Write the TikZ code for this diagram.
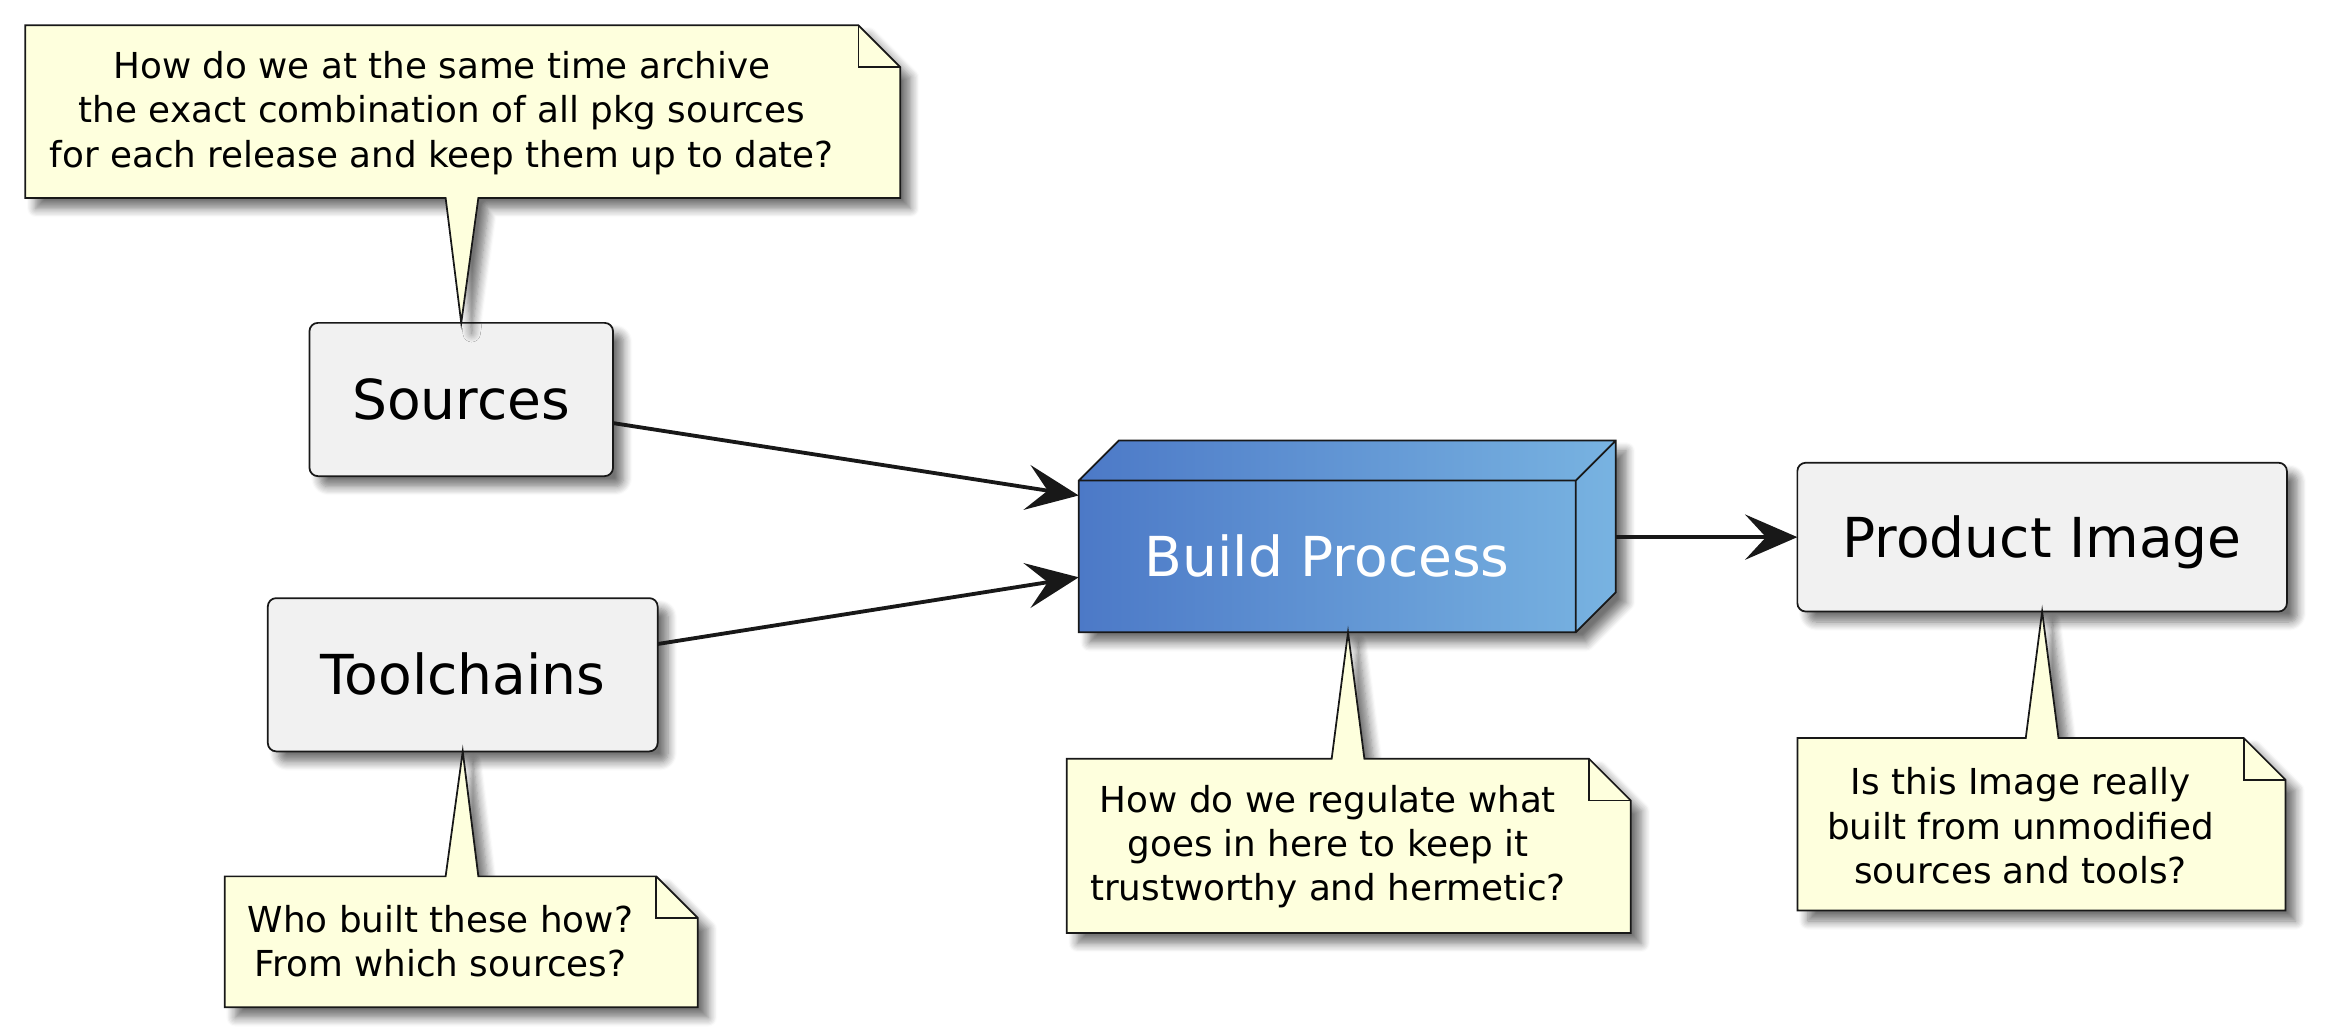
\documentclass[tikz,border=0pt]{standalone}
\usepackage{fontspec}
\setmainfont{DejaVu Sans}
\usepackage{tikz}
\usetikzlibrary{arrows.meta}
\usetikzlibrary{shadows,shadows.blur}
\usetikzlibrary{calc}

\definecolor{ink}{HTML}{181818}
\definecolor{notefill}{HTML}{FEFFDD}
\definecolor{boxfill}{HTML}{F1F1F1}
\definecolor{cubeleft}{HTML}{4C79C7}
\definecolor{cuberight}{HTML}{78B3E1}

\begin{document}
\begin{tikzpicture}
[x=0.015cm,y=-0.015cm,
  sh/.style = {blur shadow={shadow xshift=3pt,shadow yshift=-3pt,
        shadow blur radius=2.5pt,shadow blur steps=8,shadow opacity=55}},
  bx/.style = {rectangle,draw=ink,fill=boxfill,line width=0.5pt,rounded corners=2.4pt,
        inner sep=0pt,outer sep=0pt,text height=11.5pt,text depth=0pt,
        font=\fontsize{15.8}{19}\selectfont,sh},
  nb/.style = {draw=ink,fill=notefill,line width=0.5pt,sh},
  nf/.style = {draw=ink,line width=0.5pt},
  nt/.style = {align=center,inner sep=0pt,font=\fontsize{10.25}{12.7}\selectfont},
  flow/.style = {-{Stealth[length=15pt,width=13pt,inset=6pt]},draw=ink,line width=1.1pt}]

\useasboundingbox (0,0) rectangle (1568,693);

% boxes
\node[bx,minimum width=3.06cm,minimum height=1.545cm] (Src) at (310,268.5) {Sources};
\node[bx,minimum width=3.93cm,minimum height=1.545cm] (Tool) at (311,453.5) {Toolchains};
\node[bx,minimum width=4.935cm,minimum height=1.5cm] (PI) at (1372.5,361) {Product Image};

% the cube, then the build node on its front face
\coordinate (bc) at (892,374);
\path[left color=cubeleft,right color=cuberight,sh] ($(bc)+(-167,51)$) -- ($(bc)+(-167,-51)$)
  -- ($(bc)+(-140,-78)$) -- ($(bc)+(194,-78)$) -- ($(bc)+(194,24)$) -- ($(bc)+(167,51)$) -- cycle;
\draw[nf] ($(bc)+(-167,51)$) -- ($(bc)+(-167,-51)$)
  -- ($(bc)+(-140,-78)$) -- ($(bc)+(194,-78)$) -- ($(bc)+(194,24)$) -- ($(bc)+(167,51)$) -- cycle
  ($(bc)+(-167,-51)$) -- ($(bc)+(167,-51)$) -- ($(bc)+(167,51)$)
  ($(bc)+(167,-51)$) -- ($(bc)+(194,-78)$);
\node[rectangle,minimum width=5.01cm,minimum height=1.53cm,inner sep=0pt,outer sep=0pt,
  text=white,text height=11.5pt,text depth=0pt,font=\fontsize{15.8}{19}\selectfont] (BP) at (bc) {Build Process};

% notes
\path[nb] (17,17) -- (577,17) -- (605,45) -- (605,133) -- (321.5,133) -- (Src.north)
  -- (299.5,133) -- (17,133) -- cycle;
\draw[nf] (577,17) -- (577,45) -- (605,45);
\node[nt] (N1) at (297,76) {How do we at the same time archive\\the exact combination of all pkg sources\\for each release and keep them up to date?};

\path[nb] (151,589) -- (299.5,589) -- (Tool.south) -- (321.5,589) -- (441,589) -- (469,617)
  -- (469,677) -- (151,677) -- cycle;
\draw[nf] (441,589) -- (441,617) -- (469,617);
\node[nt] (N2) at (296,632.5) {Who built these how?\\From which sources?};

\coordinate (bpTip) at ($(BP.south)+(14,0)$);
\path[nb] (717,510) -- (895,510) -- (bpTip) -- (917,510) -- (1068,510) -- (1096,538)
  -- (1096,627) -- (717,627) -- cycle;
\draw[nf] (1068,510) -- (1068,538) -- (1096,538);
\node[nt] (N3) at (892.5,569) {How do we regulate what\\goes in here to keep it\\trustworthy and hermetic?};

\path[nb] (1208,496) -- (1361.5,496) -- (PI.south) -- (1383.5,496) -- (1508,496) -- (1536,524)
  -- (1536,612) -- (1208,612) -- cycle;
\draw[nf] (1508,496) -- (1508,524) -- (1536,524);
\node[nt] (N4) at (1358,555) {Is this Image really\\built from unmodified\\sources and tools?};

% arrows
\coordinate (srcIn) at ($(BP.west)+(0,-41)$);
\coordinate (toolIn) at ($(BP.west)+(0,14)$);
\coordinate (bpOut) at ($(BP.east)+(27,-13)$);
   \draw[flow] (Src) -- (srcIn);
   \draw[flow] (Tool) -- (toolIn);
   \draw[flow] (bpOut) -- (PI);
\end{tikzpicture}
\end{document}
